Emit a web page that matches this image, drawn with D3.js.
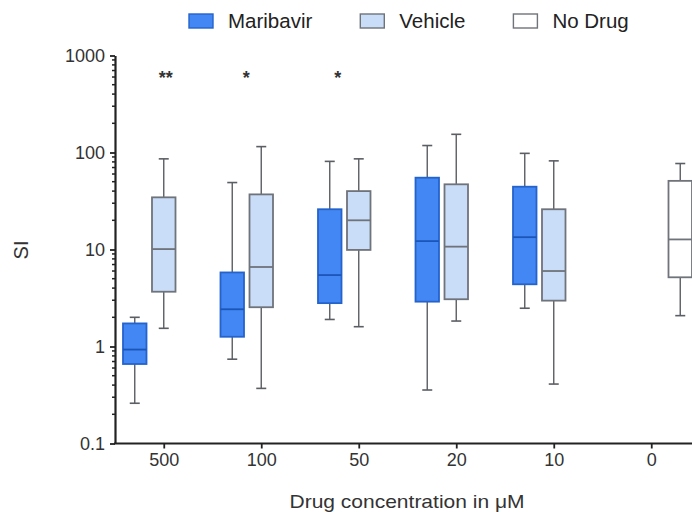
<!DOCTYPE html>
<html>
<head>
<meta charset="utf-8">
<script src="https://cdn.jsdelivr.net/npm/d3@7"></script>
<style>
  body { margin: 0; background: #fff; overflow: hidden; }
  svg { font-family: "Liberation Sans", Arial, sans-serif; display: block; }
</style>
</head>
<body>
<div id="chart"></div>
<script>
// Dades llegides del gràfic (SI, escala log)
const concentrations = ["500", "100", "50", "20", "10", "0"];
const series = ["Maribavir", "Vehicle", "No Drug"];
// [min, q1, mediana, q3, max] per concentració; null = sense caixa
const maribavirStats = [
  [0.26, 0.66, 0.93, 1.73, 2.0],
  [0.74, 1.26, 2.42, 5.8, 49],
  [1.9, 2.8, 5.45, 26, 81],
  [0.356, 2.9, 12.2, 55, 118],
  [2.48, 4.38, 13.4, 44.4, 98],
  null
];
const vehicleStats = [
  [1.54, 3.67, 10.1, 34.5, 86],
  [0.37, 2.54, 6.6, 37, 115],
  [1.6, 9.9, 20, 40, 86],
  [1.83, 3.07, 10.7, 47, 154],
  [0.41, 2.97, 6.0, 26, 82],
  null
];
const noDrugStats = [null, null, null, null, null, [2.08, 5.17, 12.7, 51, 77]];
const significance = ["**", "*", "*", "", "", ""];
const yTickValues = [0.1, 1, 10, 100, 1000];

const width = 692, height = 512;
const margin = { left: 115, top: 55.5, bottom: 68.5 };
const starShift = [2, -15, -21, 0, 0, 0]; // les estrelles no estan centrades al tick

const styles = {
  "Maribavir": { fill: "#4287f3", stroke: "#2563cc", median: "#1c55b8" },
  "Vehicle":   { fill: "#c9dcf8", stroke: "#6f737a", median: "#6f737a" },
  "No Drug":   { fill: "#ffffff", stroke: "#6f737a", median: "#6f737a" }
};

const svg = d3.select("#chart").append("svg")
  .attr("width", width).attr("height", height);

const x = d3.scalePoint().domain(concentrations).range([margin.left, 700]).padding(0.5);
const sub = d3.scalePoint().domain(series).range([-29, 29]);
const y = d3.scaleLog().domain([0.1, 1000]).range([height - margin.bottom, margin.top]);

const boxW = 23.5, capW = 10;

// Caixes
const rows = [];
[maribavirStats, vehicleStats, noDrugStats].forEach((arr, si) => {
  arr.forEach((s, ci) => {
    if (s) rows.push({ name: series[si], cat: concentrations[ci], s: s });
  });
});

const g = svg.append("g").selectAll("g.box").data(rows).join("g")
  .attr("transform", d => `translate(${x(d.cat) + sub(d.name)},0)`);

// bigotis
g.append("line").attr("x1", 0).attr("x2", 0)
  .attr("y1", d => y(d.s[0])).attr("y2", d => y(d.s[4]))
  .attr("stroke", "#5b5e63").attr("stroke-width", 1.4);
g.selectAll("line.cap").data(d => [d.s[0], d.s[4]]).join("line")
  .attr("class", "cap")
  .attr("x1", -capW / 2).attr("x2", capW / 2)
  .attr("y1", v => y(v)).attr("y2", v => y(v))
  .attr("stroke", "#5b5e63").attr("stroke-width", 1.6);
// caixa
g.append("rect")
  .attr("x", -boxW / 2).attr("width", boxW)
  .attr("y", d => y(d.s[3])).attr("height", d => y(d.s[1]) - y(d.s[3]))
  .attr("fill", d => styles[d.name].fill)
  .attr("stroke", d => styles[d.name].stroke).attr("stroke-width", 1.8);
// mediana
g.append("line")
  .attr("x1", -boxW / 2).attr("x2", boxW / 2)
  .attr("y1", d => y(d.s[2])).attr("y2", d => y(d.s[2]))
  .attr("stroke", d => styles[d.name].median).attr("stroke-width", 1.8);

// Eix Y
const minorTicks = [];
for (let p = -1; p < 3; p++) for (let k = 2; k <= 9; k++) minorTicks.push(k * Math.pow(10, p));
const yAxis = svg.append("g").attr("transform", `translate(${margin.left},0)`);
yAxis.call(d3.axisLeft(y).tickValues(yTickValues).tickFormat(d3.format("~g")).tickSize(5).tickSizeOuter(0));
yAxis.selectAll("line.minor").data(minorTicks).join("line").attr("class", "minor")
  .attr("x1", -3).attr("x2", 0).attr("y1", d => y(d)).attr("y2", d => y(d))
  .attr("stroke", "#222").attr("stroke-width", 1.5);
yAxis.select(".domain").attr("stroke", "#222").attr("stroke-width", 2.2);

// Eix X (la línia arriba fins a la vora dreta)
const xAxis = svg.append("g").attr("transform", `translate(0,${height - margin.bottom})`);
xAxis.call(d3.axisBottom(x).tickSize(5).tickSizeOuter(0));
xAxis.select(".domain").remove();
xAxis.append("line").attr("x1", margin.left - 1).attr("x2", width)
  .attr("y1", 0).attr("y2", 0).attr("stroke", "#222").attr("stroke-width", 2.2);

svg.selectAll(".tick line").attr("stroke", "#222").attr("stroke-width", 1.8);
svg.selectAll(".tick text").attr("font-size", 18).attr("fill", "#333")
  .attr("font-family", "Liberation Sans, Arial, sans-serif");
yAxis.selectAll(".tick text").attr("x", -10);
xAxis.selectAll(".tick text").attr("y", 10);

// Títols d'eix
svg.append("text")
  .attr("x", 407).attr("y", 508)
  .attr("text-anchor", "middle").attr("font-size", 19).attr("fill", "#333")
  .attr("textLength", 235).attr("lengthAdjust", "spacingAndGlyphs")
  .text("Drug concentration in μM");
svg.append("text")
  .attr("transform", "translate(28,250) rotate(-90)")
  .attr("text-anchor", "middle").attr("font-size", 20).attr("fill", "#333")
  .text("SI");

// Significació
svg.selectAll("text.star").data(concentrations.filter((c, i) => significance[i]))
  .join("text").attr("class", "star")
  .attr("x", c => x(c) + starShift[concentrations.indexOf(c)])
  .attr("y", 84)
  .attr("text-anchor", "middle").attr("font-size", 18).attr("font-weight", "bold").attr("fill", "#333")
  .text(c => significance[concentrations.indexOf(c)]);

// Llegenda
const legend = svg.append("g");
let lx = 189;
series.forEach(name => {
  const item = legend.append("g").attr("transform", `translate(${lx},0)`);
  item.append("rect").attr("x", 0).attr("y", 14).attr("width", 24).attr("height", 14)
    .attr("fill", styles[name].fill).attr("stroke", styles[name].stroke).attr("stroke-width", 1.4);
  const t = item.append("text").attr("x", 39).attr("y", 28)
    .attr("font-size", 20.5).attr("fill", "#222").text(name);
  lx += 39 + t.node().getComputedTextLength() + 48;
});
</script>
</body>
</html>
